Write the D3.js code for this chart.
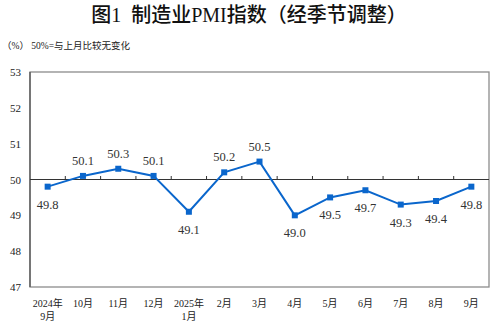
<!DOCTYPE html>
<html>
<head>
<meta charset="utf-8">
<script src="https://cdn.jsdelivr.net/npm/d3@7"></script>
<style>
  html, body { margin: 0; padding: 0; background: #fff; }
  svg { display: block; }
</style>
</head>
<body>
<div id="chart"></div>
<script>
// Manufacturing PMI, seasonally adjusted, Sep 2024 – Sep 2025
const months = ["2024年\n9月", "10月", "11月", "12月", "2025年\n1月", "2月", "3月", "4月", "5月", "6月", "7月", "8月", "9月"];
const pmi = [49.8, 50.1, 50.3, 50.1, 49.1, 50.2, 50.5, 49.0, 49.5, 49.7, 49.3, 49.4, 49.8];
const labelAbove = [false, true, true, true, false, true, true, false, false, false, false, false, false];
const yTicks = [47, 48, 49, 50, 51, 52, 53];

const W = 500, H = 324;
const m = { left: 30, right: 11, top: 72, bottom: 37 };
const serif = "'Liberation Serif', 'Times New Roman', 'Noto Sans CJK SC', serif";
const cjk = "'Noto Sans CJK SC', sans-serif";

const svg = d3.select("#chart").append("svg").attr("width", W).attr("height", H);

const x = d3.scaleBand().domain(d3.range(months.length)).range([m.left, W - m.right]);
const y = d3.scaleLinear().domain([47, 53]).range([H - m.bottom, m.top]);

// Title: Latin parts in serif, Chinese in sans
const title = svg.append("text").attr("x", 249).attr("y", 22).attr("text-anchor", "middle")
  .attr("font-size", 20).attr("fill", "#111");
[["图", cjk], ["1", serif], ["\u00a0\u00a0", serif], ["制造业", cjk], ["PMI", serif], ["指数（经季节调整）", cjk]]
  .forEach(([s, f]) => title.append("tspan").attr("font-family", f)
    .attr("font-weight", f === cjk ? 500 : 400).text(s));

svg.append("text").attr("x", 2).attr("y", 49)
  .attr("font-family", serif).attr("font-size", 9.5).attr("fill", "#222")
  .text("（%） 50%=与上月比较无变化");

// Plot frame
svg.append("rect").attr("x", m.left).attr("y", m.top)
  .attr("width", W - m.left - m.right).attr("height", H - m.top - m.bottom)
  .attr("fill", "none").attr("stroke", "#8c8c8c").attr("stroke-width", 1.3);
svg.append("line").attr("x1", m.left).attr("x2", m.left)
  .attr("y1", m.top).attr("y2", H - m.bottom).attr("stroke", "#555").attr("stroke-width", 1.3);

// Y axis labels (no tick marks)
const yAxis = d3.axisLeft(y).tickValues(yTicks).tickSize(0).tickPadding(9).tickFormat(d3.format("d"));
const gy = svg.append("g").attr("transform", `translate(${m.left},0)`).call(yAxis);
gy.select(".domain").remove();
gy.selectAll("text").attr("font-family", serif).attr("font-size", 11).attr("fill", "#222");

// Reference line at 50 with small upward ticks at category boundaries
const base = y(50);
svg.append("line").attr("x1", m.left).attr("x2", W - m.right)
  .attr("y1", base).attr("y2", base).attr("stroke", "#333").attr("stroke-width", 1.2);
svg.append("g").selectAll("line").data(d3.range(1, months.length)).join("line")
  .attr("x1", i => x(i)).attr("x2", i => x(i))
  .attr("y1", base).attr("y2", base - 3.5)
  .attr("stroke", "#333").attr("stroke-width", 1);

// Category labels
const gx = svg.append("g");
months.forEach((lab, i) => {
  const t = gx.append("text").attr("x", x(i) + x.bandwidth() / 2).attr("y", 307)
    .attr("text-anchor", "middle").attr("font-family", serif).attr("font-size", 10).attr("fill", "#222");
  lab.split("\n").forEach((s, k) => {
    t.append("tspan").attr("x", x(i) + x.bandwidth() / 2).attr("dy", k === 0 ? 0 : 12.5).text(s);
  });
});

// Series line and markers
const cx = i => x(i) + x.bandwidth() / 2;
const color = "#0a66cc";
svg.append("path").datum(pmi)
  .attr("d", d3.line().x((d, i) => cx(i)).y(d => y(d)))
  .attr("fill", "none").attr("stroke", color).attr("stroke-width", 2);
svg.append("g").selectAll("rect").data(pmi).join("rect")
  .attr("x", (d, i) => cx(i) - 3).attr("y", d => y(d) - 3)
  .attr("width", 6).attr("height", 6).attr("fill", color);

// Value labels
svg.append("g").selectAll("text").data(pmi).join("text")
  .attr("x", (d, i) => cx(i))
  .attr("y", (d, i) => labelAbove[i] ? y(d) - 11 : y(d) + 22)
  .attr("text-anchor", "middle").attr("font-family", serif).attr("font-size", 12.5).attr("fill", "#333")
  .text(d => d.toFixed(1));
</script>
</body>
</html>
